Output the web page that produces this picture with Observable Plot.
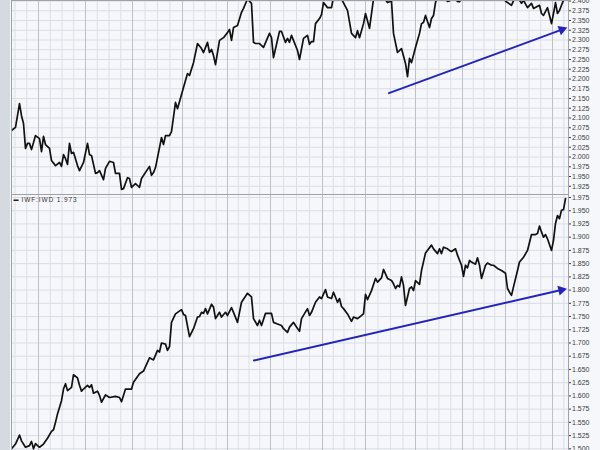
<!DOCTYPE html>
<html><head><meta charset="utf-8">
<script src="https://cdn.jsdelivr.net/npm/d3@7"></script>
<script src="https://cdn.jsdelivr.net/npm/@observablehq/plot@0.6"></script>
<style>
html,body{margin:0;padding:0;overflow:hidden;background:#f6f7fa;}
#chart{width:600px;height:450px;background:linear-gradient(to right,#d5d9e0 0,#d5d9e0 10px,#f6f7fa 10px);}
#chart svg{display:block;}
.legendtxt g[aria-label=text] text{letter-spacing:0.9px;}
</style></head><body><div id="chart"></div>
<script>
// bar index (trading sessions) and ratio values
const topSeries = [
[0,2.068],[2,2.076],[4,2.137],[5,2.106],[6,2.086],[7,2.022],[8,2.035],[9,2.035],[10,2.019],[12,2.055],
[14,2.047],[15,2.014],[16,2.053],[17,2.032],[19,2.022],[20,1.991],[22,1.978],[24,1.986],[25,1.976],[26,2.006],
[27,1.996],[28,1.981],[29,2.035],[30,2.009],[31,2.012],[33,1.978],[34,1.965],[36,1.986],[38,2.035],[39,2.006],
[40,2.004],[42,1.958],[43,1.960],[44,1.965],[46,1.942],[47,1.971],[49,1.989],[51,1.986],[52,1.958],[54,1.958],
[55,1.917],[56,1.919],[58,1.947],[59,1.945],[60,1.922],[62,1.932],[63,1.927],[64,1.922],[65,1.945],[69,1.976],
[70,1.953],[71,1.960],[72,1.973],[74,2.024],[75,2.050],[76,2.032],[77,2.055],[79,2.055],[80,2.065],[82,2.140],
[83,2.124],[86,2.178],[88,2.214],[89,2.209],[91,2.242],[93,2.291],[95,2.278],[96,2.268],[98,2.294],[99,2.268],
[100,2.276],[101,2.260],[102,2.237],[104,2.299],[106,2.306],[108,2.319],[109,2.327],[110,2.299],[111,2.332],[113,2.337],
[115,2.371],[116,2.381],[118,2.405],[120,2.394],[121,2.294],[122,2.291],[124,2.291],[126,2.281],[129,2.317],[130,2.306],
[131,2.255],[134,2.322],[135,2.322],[137,2.294],[138,2.304],[139,2.294],[140,2.312],[141,2.299],[143,2.273],[144,2.250],
[146,2.304],[148,2.312],[149,2.289],[150,2.296],[151,2.296],[152,2.342],[154,2.355],[155,2.365],[156,2.396],[158,2.383],
[160,2.383],[161,2.410],[163,2.420],[165,2.405],[168,2.376],[170,2.317],[172,2.306],[173,2.324],[174,2.306],[176,2.342],
[177,2.368],[179,2.330],[181,2.405],[184,2.420],[186,2.410],[188,2.396],[190,2.400],[191,2.317],[193,2.268],[195,2.278],
[197,2.240],[198,2.206],[199,2.253],[200,2.242],[202,2.281],[204,2.317],[205,2.342],[206,2.345],[207,2.363],[209,2.332],
[210,2.355],[211,2.363],[212,2.396],[213,2.410],[215,2.420],[218,2.399],[219,2.400],[221,2.410],[223,2.399],[224,2.398],
[226,2.415],[230,2.430],[234,2.440],[238,2.425],[242,2.430],[245,2.415],[247,2.400],[248,2.396],[250,2.389],[251,2.401],
[253,2.410],[255,2.394],[256,2.402],[258,2.383],[260,2.394],[261,2.381],[264,2.389],[265,2.368],[266,2.363],[268,2.383],
[269,2.363],[270,2.342],[271,2.368],[272,2.396],[273,2.368],[274,2.376],[275,2.389],[276,2.402]
];
const bottomSeries = [
[0,1.500],[2,1.509],[4,1.526],[5,1.515],[7,1.503],[9,1.506],[10,1.514],[11,1.500],[12,1.510],[13,1.506],
[14,1.503],[16,1.509],[18,1.520],[20,1.533],[21,1.536],[22,1.550],[23,1.566],[25,1.591],[26,1.613],[27,1.623],
[28,1.610],[30,1.616],[31,1.640],[33,1.634],[34,1.620],[35,1.609],[36,1.613],[38,1.620],[39,1.616],[40,1.621],
[41,1.605],[43,1.609],[44,1.601],[45,1.588],[47,1.602],[49,1.597],[52,1.599],[54,1.597],[55,1.589],[57,1.613],
[60,1.613],[61,1.626],[64,1.642],[66,1.647],[69,1.672],[71,1.668],[73,1.686],[74,1.683],[75,1.700],[77,1.698],
[78,1.686],[79,1.693],[80,1.739],[82,1.755],[85,1.763],[86,1.754],[87,1.752],[89,1.712],[91,1.727],[93,1.749],
[94,1.750],[95,1.758],[96,1.756],[97,1.765],[98,1.755],[100,1.773],[101,1.768],[102,1.746],[104,1.758],[105,1.749],
[107,1.758],[108,1.752],[110,1.767],[111,1.758],[113,1.739],[115,1.777],[118,1.794],[120,1.787],[121,1.746],[123,1.733],
[124,1.743],[125,1.733],[127,1.756],[130,1.756],[131,1.739],[133,1.736],[135,1.733],[136,1.727],[138,1.720],[139,1.730],
[141,1.739],[142,1.733],[144,1.722],[145,1.746],[148,1.765],[149,1.752],[150,1.758],[152,1.777],[154,1.787],[155,1.784],
[157,1.801],[158,1.787],[160,1.784],[161,1.796],[163,1.777],[164,1.784],[165,1.769],[166,1.765],[168,1.755],[170,1.741],
[171,1.749],[173,1.746],[174,1.749],[176,1.755],[177,1.792],[178,1.782],[180,1.799],[182,1.822],[183,1.815],[185,1.823],
[186,1.839],[188,1.822],[190,1.818],[191,1.812],[192,1.803],[193,1.809],[194,1.806],[195,1.825],[196,1.809],[197,1.771],
[199,1.803],[200,1.806],[201,1.799],[202,1.818],[204,1.811],[205,1.837],[207,1.870],[210,1.885],[211,1.878],[213,1.869],
[214,1.878],[215,1.869],[216,1.881],[218,1.878],[219,1.875],[220,1.873],[222,1.878],[223,1.866],[225,1.847],[226,1.826],
[227,1.847],[228,1.842],[229,1.856],[230,1.853],[232,1.849],[233,1.861],[234,1.847],[235,1.822],[237,1.847],[238,1.851],
[240,1.847],[241,1.847],[243,1.841],[245,1.837],[247,1.832],[248,1.803],[249,1.796],[250,1.790],[251,1.806],[253,1.837],
[254,1.853],[256,1.862],[258,1.875],[260,1.905],[262,1.905],[263,1.907],[264,1.921],[265,1.910],[266,1.900],[267,1.905],
[268,1.897],[270,1.875],[271,1.894],[272,1.926],[273,1.941],[274,1.935],[275,1.951],[276,1.952],[277,1.973]
];
const topTicks = [1.925,1.950,1.975,2.000,2.025,2.050,2.075,2.100,2.125,2.150,2.175,2.200,2.225,2.250,2.275,2.300,2.325,2.350,2.375,2.400];
const bottomTicks = [1.500,1.525,1.550,1.575,1.600,1.625,1.650,1.675,1.700,1.725,1.750,1.775,1.800,1.825,1.850,1.875,1.900,1.925,1.950,1.975];
const monthLines = [13.5,37,60.5,85.5,108,129.5,155.5,177,202,225.5,247,270.5];
const topArrowX = [188.7, 275.2], topArrowY = [2.1636, 2.3267];
const bottomArrowX = [121.2, 274.9], bottomArrowY = [1.6669, 1.8002];
const legendLabel = "IWF:IWD 1.973";

const X_DOMAIN = [0, 278.5];
const weekLines = [1.75, 7.6];
monthLines.forEach((m, i) => {
  const n = monthLines[i + 1];
  if (n !== undefined) for (let k = 1; k < 4; k++) weekLines.push(m + k * (n - m) / 4);
});
weekLines.push(276.2);

function panel({height, yDomain, ticks, series, ax, ay, legend}) {
  const xOpt = {domain: X_DOMAIN, range: [11, 568]};
  const yOpt = {domain: yDomain, range: [height, 0]};
  const sx = Plot.scale({x: xOpt}), sy = Plot.scale({y: yOpt});
  const ang = Math.atan2(sy.apply(ay[1]) - sy.apply(ay[0]), sx.apply(ax[1]) - sx.apply(ax[0])) * 180 / Math.PI + 90;
  const arrow = ax.map((x, i) => ({x, y: ay[i]}));
  const pts = series.map(([x, y]) => ({x, y}));
  const blue = "#2323bd";
  const marks = [
    Plot.ruleY(ticks, {stroke: "#dadde4", strokeWidth: 1}),
    Plot.ruleX(weekLines, {stroke: "#dcdfe6", strokeWidth: 1}),
    Plot.ruleX(monthLines, {stroke: "#bcc0c8", strokeWidth: 1}),
    Plot.line(pts, {x: "x", y: "y", stroke: "#111", strokeWidth: 1.7, clip: true}),
    Plot.line(arrow, {x: "x", y: "y", stroke: blue, strokeWidth: 1.9}),
    Plot.dot([arrow[1]], {x: "x", y: "y", symbol: "triangle", r: 3.7, fill: blue, stroke: "none", rotate: ang}),
    Plot.frame({stroke: "#9da2aa"})
  ];
  if (legend) {
    marks.push(Plot.text(["\u25AC"], {frameAnchor: "top-left", dx: 2, dy: 5, fontSize: 5, fill: "#222", textAnchor: "start", lineAnchor: "middle"}));
    marks.push(Plot.text([legend], {frameAnchor: "top-left", dx: 10, dy: 5, fontSize: 6.5, fill: "#333", textAnchor: "start", lineAnchor: "middle"}));
  }
  return Plot.plot({
    width: 600, height,
    marginLeft: 11, marginRight: 32, marginTop: 0, marginBottom: 0,
    className: legend ? "legendtxt" : "toppanel",
    style: {background: "transparent", fontFamily: "'Liberation Sans', Arial, sans-serif", fontSize: "7px", color: "#3c3c3c", overflow: "visible"},
    x: {...xOpt, axis: null},
    y: {...yOpt, axis: "right", ticks, tickFormat: d3.format(".3f"), tickSize: 2, tickPadding: 1.5, label: null},
    marks
  });
}

const el = document.getElementById("chart");
el.append(panel({height: 194, yDomain: [1.9039, 2.4013], ticks: topTicks, series: topSeries, ax: topArrowX, ay: topArrowY}));
el.append(panel({height: 256, yDomain: [1.4968, 1.9807], ticks: bottomTicks, series: bottomSeries, ax: bottomArrowX, ay: bottomArrowY, legend: legendLabel}));
</script></body></html>
